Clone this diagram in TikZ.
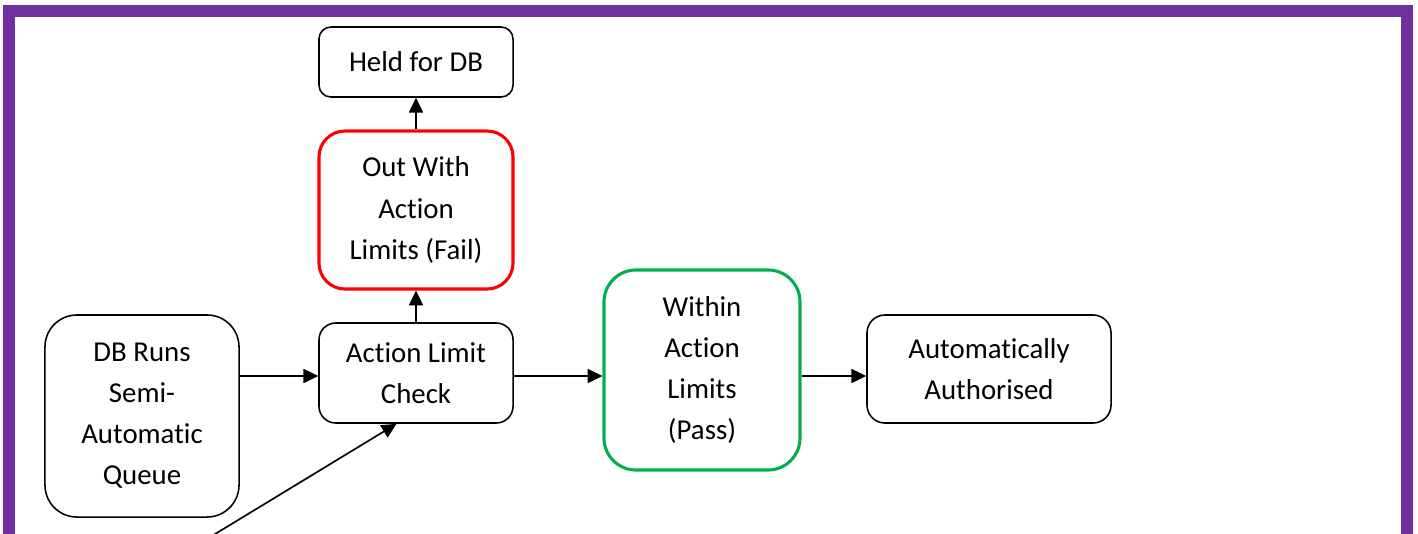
\documentclass[tikz,border=0pt]{standalone}
\usepackage{fontspec}
\setmainfont[Ligatures=NoCommon]{Carlito}
\usepackage{xcolor}
\usetikzlibrary{arrows.meta}
\definecolor{framepurple}{RGB}{112,48,160}
\definecolor{failred}{RGB}{255,0,0}
\definecolor{passgreen}{RGB}{0,176,80}

\begin{document}
\begin{tikzpicture}[x=0.025cm,y=-0.025cm,
  box/.style={draw,line width=1.1pt,align=center,inner sep=0pt,
    font=\fontsize{20.5}{29.2}\selectfont},
  tip/.style={-{Triangle[length=10.5pt,width=10pt]},line width=1.2pt}]
  \useasboundingbox (0,0) rectangle (1418,533);
  \clip (0,0) rectangle (1418,533);
  \draw[line width=8.5pt,framepurple] (9,11) rectangle (1407,620);
  % boxes
  \node[box,minimum width=4.85cm,minimum height=1.75cm,rounded corners=0.3cm] (held) at (416,62) {Held for DB};
  \node[box,draw=failred,line width=2.2pt,minimum width=4.85cm,minimum height=3.95cm,rounded corners=0.65cm] (fail) at (416,210) {Out With\\Action\\Limits (Fail)};
  \node[box,minimum width=4.85cm,minimum height=2.5cm,rounded corners=0.42cm] (chk) at (416,373) {Action Limit\\Check};
  \node[box,minimum width=4.85cm,minimum height=5.05cm,rounded corners=0.8cm] (dbq) at (142,416) {DB Runs\\Semi-\\Automatic\\Queue};
  \node[box,draw=passgreen,line width=2.2pt,minimum width=4.9cm,minimum height=5cm,rounded corners=0.8cm] (pass) at (702,370) {Within\\Action\\Limits\\(Pass)};
  \node[box,minimum width=6.1cm,minimum height=2.7cm,rounded corners=0.45cm] (auto) at (989,369) {Automatically\\Authorised};
  % arrows
  \coordinate (feed) at (197,545);
  \draw[tip] (dbq.east |- 0,376) -- (chk.west |- 0,376);
  \draw[tip] (chk.east |- 0,376) -- (pass.west |- 0,376);
  \draw[tip] (pass.east |- 0,376) -- (auto.west |- 0,376);
  \draw[tip] (chk) -- (fail);
  \draw[tip] (fail) -- (held);
  \draw[tip] (feed) -- (chk.249);
\end{tikzpicture}
\end{document}
